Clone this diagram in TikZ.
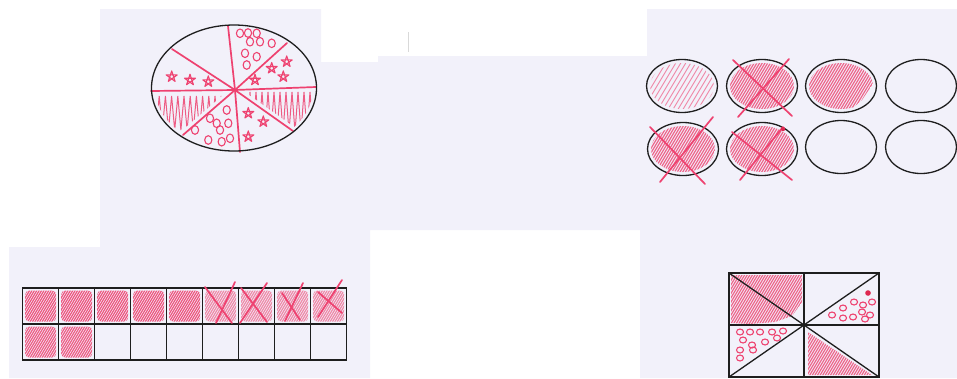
\documentclass[tikz,border=0pt]{standalone}
\usetikzlibrary{calc}
\definecolor{lav}{RGB}{242,241,250}
\definecolor{pk}{RGB}{238,66,112}
\definecolor{pkd}{RGB}{222,40,80}
\definecolor{ink}{RGB}{30,30,30}
\newcommand\hatchlines[6]{%
  \foreach \k in {0,...,#3}{%
    \pgfmathsetmacro\hx{#1-#3*#4/2+\k*#4}%
    \draw[#6] ({\hx-0.6*#5},{#2+#5}) -- ({\hx+0.6*#5},{#2-#5});}}
\newcommand\hstar[1]{\draw[starline] (#1) +(-90:5.8) -- +(54:5.8) -- +(198:5.8) -- +(-18:5.8) -- +(126:5.8) -- cycle;}
\newcommand\oo[1]{\draw[ringline] (#1) ellipse [x radius=3.6, y radius=4.3];}
\newcommand\ob[1]{\draw[ringline] (#1) ellipse [x radius=3.5, y radius=3];}
\begin{document}
\begin{tikzpicture}[x=1pt,y=-1pt,
  inkline/.style={draw=ink,line width=1.3pt},
  spoke/.style={draw=pk,line width=1.7pt,line cap=round},
  starline/.style={draw=pk,line width=1.1pt,line join=round},
  ringline/.style={draw=pk,line width=1.1pt},
  hl/.style={pk,line width=0.9pt,opacity=0.7,line cap=round},
  hd/.style={pk,line width=1.2pt,opacity=0.8,line cap=round},
  cross/.style={draw=pk,line width=1.7pt,line cap=round}]
\useasboundingbox (0,0) rectangle (957,378);
\fill[white] (0,0) rectangle (957,378);
\fill[lav] (100,9) -- (321,9) -- (321,62) -- (378,62) -- (378,56) -- (647,56) -- (647,9)
  -- (957,9) -- (957,378) -- (640,378) -- (640,230) -- (370,230) -- (370,378) -- (9,378)
  -- (9,247) -- (100,247) -- cycle;
\draw[gray!30,line width=0.8pt] (408,32) -- (408,52);

% ---------------- pie (ellipse) ----------------
\coordinate (E) at (234,88);
\coordinate (C) at (235,90);
\coordinate (s1) at (228,26);
\coordinate (s2) at (287,43);
\coordinate (s3) at (316,87);
\coordinate (s4) at (293,131);
\coordinate (s5) at (240,152);
\coordinate (s6) at (183,135);
\coordinate (s7) at (151,91);
\coordinate (s8) at (172,49);
\begin{scope}
  \clip (E) ellipse [x radius=79, y radius=60];
  \clip (224,94) -- (148,94) -- (148,160) -- (157,152) -- cycle;
  \draw[hl,opacity=.85,line width=1pt] (153,96) \foreach \k in {1,...,24}{ -- ({153+\k*3.1},{96+mod(\k,2)*34})};
\end{scope}
\begin{scope}
  \clip (E) ellipse [x radius=79, y radius=60];
  \clip (245,92) -- (322,90) -- (322,146) -- (319,144.4) -- cycle;
  \draw[hl,opacity=.85,line width=1pt] (244,92) \foreach \k in {1,...,26}{ -- ({244+\k*3},{92+mod(\k,2)*40})};
\end{scope}
\foreach \s in {s1,s2,s3,s4,s5,s6,s7,s8} \draw[spoke] (C) -- (\s);
% stars
\hstar{171.7,76.7}\hstar{190,80}\hstar{208.3,81.7}
\hstar{286.7,61.7}\hstar{271.7,68.3}\hstar{283.3,76.7}\hstar{255,80}
\hstar{248.3,113.3}\hstar{263.3,121.7}\hstar{248.3,136.7}
% rings
\oo{240,33.3}\oo{248,33}\oo{256.7,33.3}\oo{250,41.7}\oo{260,41.7}\oo{271.7,43.3}
\oo{245,53.3}\oo{256.7,56.7}\oo{246.7,65}
\oo{226.7,110}\oo{210,118.3}\oo{228.3,123.3}\oo{220,130}\oo{195,130}\oo{208.3,140}
\oo{221.7,141.7}\oo{230,138.3}\oo{216.7,123.3}
\draw[inkline] (E) ellipse [x radius=82.5, y radius=63];

% ---------------- circles ----------------
\begin{scope}
  \clip (682,86) ellipse [x radius=32, y radius=23];
  \hatchlines{682}{86}{22}{5}{30}{hl,opacity=.6}
\end{scope}
\begin{scope}
  \clip (762,86) ellipse [x radius=32, y radius=23];
  \hatchlines{762}{86}{40}{2.7}{30}{hd}
\end{scope}
\begin{scope}
  \clip (841,86) ellipse [x radius=32, y radius=23];
  \clip (800,60) -- (880,60) -- (874,82) -- (862,100) -- (848,112) -- (800,112) -- cycle;
  \hatchlines{841}{86}{40}{2.7}{30}{hd}
\end{scope}
\begin{scope}
  \clip (683,149) ellipse [x radius=32, y radius=23];
  \hatchlines{683}{149}{40}{2.7}{30}{hd}
\end{scope}
\begin{scope}
  \clip (762,149) ellipse [x radius=32, y radius=23];
  \hatchlines{762}{149}{40}{2.7}{30}{hd}
\end{scope}
\foreach \cx/\cy in {682/86,762/86,841/86,921/86,683/149,762/149,841/147,921/147}
  \draw[inkline] (\cx,\cy) ellipse [x radius=35.5, y radius=26.5];
\draw[cross] (733,60) -- (792,116);
\draw[cross] (789,59) -- (738,117);
\draw[cross] (650,127) -- (705,184);
\draw[cross] (713,117) -- (660,182);
\draw[cross] (732,132) -- (792,180);
\draw[cross] (783,127) -- (740,180);
\fill[pkd] (783,129) circle (2.2);

% ---------------- grid ----------------
\foreach \k in {0,...,8}{
  \pgfmathsetmacro\xo{22.7+36*\k}
  \pgfmathsetmacro\op{\k<5 ? 0.9 : 0.6}
  \begin{scope}
    \clip[rounded corners=4pt] (\xo+2.5,290.5) rectangle (\xo+33.5,321.5);
    \hatchlines{\xo+18}{306}{25}{2.4}{25}{hd,opacity=\op}
  \end{scope}}
\foreach \k in {0,1}{
  \pgfmathsetmacro\xo{22.7+36*\k}
  \begin{scope}
    \clip[rounded corners=4pt] (\xo+2.5,326.5) rectangle (\xo+33.5,357.5);
    \hatchlines{\xo+18}{342}{25}{2.4}{25}{hd,opacity=.85}
  \end{scope}}
\draw[inkline] (22.7,288) rectangle (346.7,360);
\draw[inkline] (22.7,324) -- (346.7,324);
\foreach \k in {1,...,8} \draw[inkline] ({22.7+36*\k},288) -- ({22.7+36*\k},360);
\draw[cross] (205,287) -- (232,323);
\draw[cross] (235,282) -- (216,323);
\draw[cross] (241,288) -- (267,322);
\draw[cross] (267,283) -- (240,323);
\draw[cross] (282,293) -- (300,320);
\draw[cross] (303,283) -- (285,321);
\draw[cross] (318,292) -- (342,313);
\draw[cross] (342,280) -- (318,317);

% ---------------- box ----------------
\begin{scope}
  \clip (731,275) -- (802,275) -- (802,302) -- (792,316) -- (775,322) -- (750,324) -- (731,323) -- cycle;
  \hatchlines{766}{300}{40}{2.6}{30}{hd}
\end{scope}
\begin{scope}
  \clip (808,332) -- (808,375) -- (872,375) -- cycle;
  \hatchlines{840}{355}{40}{2.6}{30}{hd}
\end{scope}
\ob{854,302}\ob{843,308}\ob{832,315}\ob{863,305}\ob{862,312}\ob{853,317}
\ob{843,318}\ob{870,315}\ob{865,319}\ob{872,302}
\fill[pkd] (868,293) circle (2.8);
\ob{740,332}\ob{750,332}\ob{760,332}\ob{772,332}\ob{783,331}\ob{743,340}
\ob{765,342}\ob{777,338}\ob{752,345}\ob{740,350}\ob{753,350}\ob{740,358}
\draw[inkline] (729,273) rectangle (879,377);
\draw[inkline] (804,273) -- (804,377);
\draw[inkline] (729,325) -- (879,325);
\draw[inkline] (729,273) -- (879,377);
\draw[inkline] (879,273) -- (729,377);
\end{tikzpicture}
\end{document}
